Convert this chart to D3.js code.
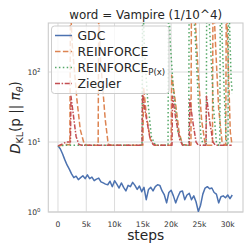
<!DOCTYPE html>
<html><head><meta charset="utf-8">
<script src="https://cdn.jsdelivr.net/npm/d3@7"></script>
<style>body{margin:0;background:#fff}svg{display:block}text{font-family:"DejaVu Sans",sans-serif}</style>
</head><body>
<script>
const title = "word = Vampire (1/10^4)";
const xTicks = [0, 5000, 10000, 15000, 20000, 25000, 30000];
const xTickLabels = ["0", "5k", "10k", "15k", "20k", "25k", "30k"];
const yTicks = [1, 10, 100];
const yTickExp = ["0", "1", "2"];
const seriesNames = ["GDC", "REINFORCE", "REINFORCE", "Ziegler"];

const gdcStep = 400;
const gdcValues = [8.8,8.0,6.8,5.6,4.7,4.1,3.5,3.1,3.25,2.9,3.1,3.3,3.0,3.4,3.0,3.15,2.8,2.95,3.05,2.7,
  2.6,2.5,2.45,2.75,2.3,2.8,2.5,2.2,2.6,2.25,2.0,2.4,2.3,2.65,2.4,2.1,2.35,1.95,2.25,1.5,
  2.1,2.25,2.0,2.3,2.45,2.4,2.0,1.75,1.35,1.9,2.05,1.7,1.35,1.65,1.95,2.0,1.5,1.75,1.85,1.5,
  1.7,1.4,1.02,1.25,1.8,2.2,2.3,2.15,2.2,1.9,1.8,1.35,1.65,1.7,1.6,1.75,1.55,1.75];

const reinforce = [[0,8.8],[1500,9.2],[2100,9.1],[2200,900],[2520,245],[3350,40],[3940,15],[4640,9.3],[5200,9.0],
  [7100,9.0],[7200,900],[7470,170],[8350,21],[8880,9.3],[9500,9.0],
  [15000,9.0],[15150,60],[15600,25],[16300,11],[17000,9.0],
  [20000,9.0],[20100,90],[20700,40],[21400,14],[22000,9.2],
  [23500,9.0],[23600,2000],[24200,700],[24800,90],[25400,20],[26000,9.5],[26400,9.0],
  [27300,9.0],[27400,1500],[27900,200],[28400,30],[29000,10],[29500,9.0],
  [29650,9.0],[29750,1200],[30100,130],[30450,14],[30750,9.2]];

const reinforcePx = [[0,8.8],[1500,9.0],[3000,9.0],
  [14850,9.0],[14950,1500],[15300,200],[15800,45],[16500,12],[17200,9.0],
  [19450,9.0],[19550,1500],[19800,300],[20400,55],[21200,14],[22000,9.2],[22800,9.0],
  [23100,9.0],[23200,3000],[24200,400],[24800,40],[25300,11],[25800,9.0],
  [26200,9.0],[26300,2000],[26900,300],[27500,30],[28000,10],[28400,9.0],
  [28600,9.0],[28700,1500],[29200,120],[29700,12],[29900,9.0],
  [30050,9.0],[30150,1500],[30600,80],[30800,50]];

const ziegler = [[0,8.8],[800,9.4],[1500,10.0],[2200,10.0],[2300,45],[2700,25],[3200,12],[3700,9.2],[4200,9.0],
  [14850,9.0],[14950,48],[15500,25],[16200,12],[16800,9.2],[17300,9.0],
  [20150,9.0],[20250,45],[20800,22],[21500,11],[22000,9.0],
  [23200,9.0],[23300,40],[23900,18],[24400,10],[24800,9.0],
  [26150,9.0],[26250,45],[26800,20],[27400,10],[27800,9.0],[30700,9.0]];

const W = 251, H = 251;
const L = 48.3, R = 243, T = 23, B = 212;
const svg = d3.select("body").append("svg").attr("width", W).attr("height", H);

const x = d3.scaleLinear().domain([-1710, 32700]).range([L, R]);
const y = d3.scaleLog().domain([1, Math.pow(10, 2.7)]).range([B, T]);

// grid
const grid = svg.append("g");
grid.selectAll(".vx").data(xTicks).enter().append("line")
  .attr("x1", d => x(d)).attr("x2", d => x(d)).attr("y1", T).attr("y2", B)
  .attr("stroke", "#dcdcdc").attr("stroke-width", 1);
grid.selectAll(".hy").data(yTicks).enter().append("line")
  .attr("x1", L).attr("x2", R).attr("y1", d => y(d)).attr("y2", d => y(d))
  .attr("stroke", "#dcdcdc").attr("stroke-width", 1);

// frame
svg.append("rect").attr("x", L).attr("y", T).attr("width", R - L).attr("height", B - T)
  .attr("fill", "none").attr("stroke", "#cccccc").attr("stroke-width", 1.1);

// x tick labels
svg.append("g").selectAll("text").data(xTicks).enter().append("text")
  .attr("x", d => x(d)).attr("y", 226.5).attr("text-anchor", "middle")
  .attr("font-size", 7.6).attr("fill", "#333")
  .text((d, i) => xTickLabels[i]);

// y tick labels
const yt = svg.append("g").selectAll("text").data(yTicks).enter().append("text")
  .attr("x", 40.5).attr("y", d => y(d) + 3).attr("text-anchor", "end")
  .attr("font-size", 7.6).attr("fill", "#333");
yt.append("tspan").text("10");
yt.append("tspan").attr("font-size", 5.4).attr("dy", -3.2).text((d, i) => yTickExp[i]);

// clip
svg.append("clipPath").attr("id", "clip").append("rect")
  .attr("x", L).attr("y", T).attr("width", R - L).attr("height", B - T);
const plot = svg.append("g").attr("clip-path", "url(#clip)");

const line = d3.line().x(d => x(d[0])).y(d => y(d[1]));
const gdc = gdcValues.map((v, i) => [i * gdcStep, v]);

const styles = [
  {data: gdc, color: "#4c72b0", dash: null},
  {data: reinforce, color: "#dd8452", dash: "5.5,2.4"},
  {data: reinforcePx, color: "#55a868", dash: "1.5,2.4"},
  {data: ziegler, color: "#c44e52", dash: "5,1.6,1.5,1.6"}
];
// draw order: gdc, reinforce, reinforcePx, ziegler
styles.forEach(s => {
  plot.append("path").datum(s.data).attr("d", line)
    .attr("fill", "none").attr("stroke", s.color).attr("stroke-width", 1.5)
    .attr("stroke-dasharray", s.dash).attr("stroke-linejoin", "round");
});

// legend
const lg = svg.append("g");
lg.append("rect").attr("x", 51.5).attr("y", 26).attr("width", 117.5).attr("height", 67.5)
  .attr("rx", 3).attr("fill", "#fff").attr("fill-opacity", 0.8).attr("stroke", "#cccccc").attr("stroke-width", 1);
const legY = [35.5, 51.5, 67.5, 83.5];
styles.forEach((s, i) => {
  lg.append("line").attr("x1", 55).attr("x2", 72).attr("y1", legY[i]).attr("y2", legY[i])
    .attr("stroke", s.color).attr("stroke-width", 1.5).attr("stroke-dasharray", s.dash);
  const t = lg.append("text").attr("x", 77.5).attr("y", legY[i] + 4.5)
    .attr("font-size", 12.4).attr("fill", "#262626");
  t.append("tspan").text(seriesNames[i]);
  if (i === 2) t.append("tspan").attr("font-size", 8.6).attr("dy", 2.6).text("P(x)");
});

// title
svg.append("text").attr("x", (L + R) / 2).attr("y", 19).attr("text-anchor", "middle")
  .attr("font-size", 11.9).attr("fill", "#262626").text(title);

// x label
svg.append("text").attr("x", (L + R) / 2).attr("y", 240).attr("text-anchor", "middle")
  .attr("font-size", 13.8).attr("fill", "#262626").text("steps");

// y label
const yl = svg.append("text").attr("transform", `translate(20,${(T + B) / 2}) rotate(-90)`)
  .attr("text-anchor", "middle").attr("font-size", 13.5).attr("fill", "#262626");
yl.append("tspan").attr("font-style", "italic").text("D");
yl.append("tspan").attr("font-size", 9.5).attr("dy", 2.5).text("KL");
yl.append("tspan").attr("dy", -2.5).text("(p || ");
yl.append("tspan").attr("font-style", "italic").text("π");
yl.append("tspan").attr("font-style", "italic").attr("font-size", 9.5).attr("dy", 2.5).text("θ");
yl.append("tspan").attr("dy", -2.5).text(")");
</script>
</body></html>
